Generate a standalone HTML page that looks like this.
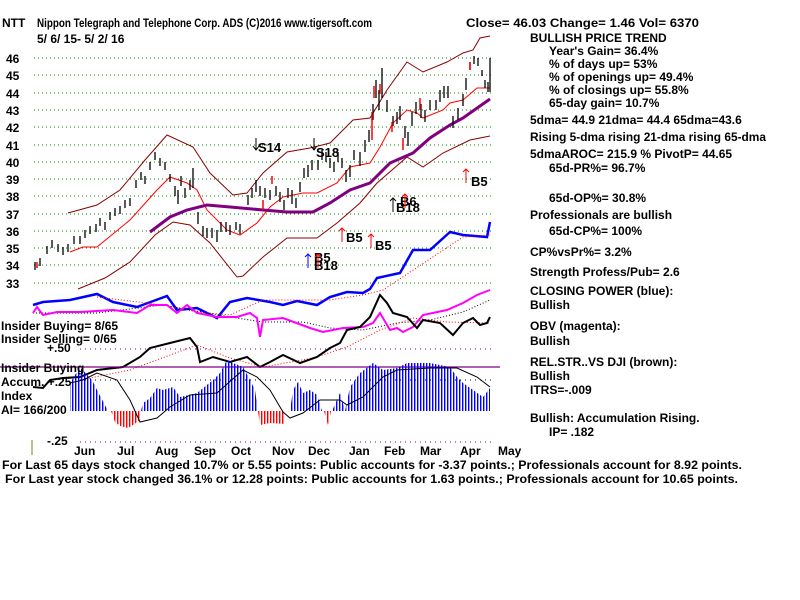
<!DOCTYPE html>
<html><head><meta charset="utf-8"><style>
body{margin:0;background:#fff;}
svg{display:block;font-family:"Liberation Sans",sans-serif;font-weight:bold;font-size:12px;}
</style></head><body>
<svg width="800" height="600" viewBox="0 0 800 600" xmlns="http://www.w3.org/2000/svg">
<defs>
<pattern id="bl" width="3" height="4" patternUnits="userSpaceOnUse"><rect x="0" y="0" width="1.4" height="4" fill="#0000ff"/></pattern>
<pattern id="rd" width="3" height="4" patternUnits="userSpaceOnUse"><rect x="0" y="0" width="1.4" height="4" fill="#ff0000"/></pattern>
</defs>
<rect width="800" height="600" fill="#fff"/>
<g stroke="#008000" stroke-dasharray="1,3" stroke-width="1">
<line x1="34" y1="58" x2="492" y2="58"/><line x1="34" y1="75" x2="492" y2="75"/><line x1="34" y1="93" x2="492" y2="93"/><line x1="34" y1="110" x2="492" y2="110"/><line x1="34" y1="127" x2="492" y2="127"/><line x1="34" y1="145" x2="492" y2="145"/><line x1="34" y1="162" x2="492" y2="162"/><line x1="34" y1="179" x2="492" y2="179"/><line x1="34" y1="196" x2="492" y2="196"/><line x1="34" y1="214" x2="492" y2="214"/><line x1="34" y1="231" x2="492" y2="231"/><line x1="34" y1="248" x2="492" y2="248"/><line x1="34" y1="265" x2="492" y2="265"/><line x1="34" y1="283" x2="492" y2="283"/>
</g>
<g font-size="12">
<text x="6" y="63">46</text><text x="6" y="80">45</text><text x="6" y="98">44</text><text x="6" y="115">43</text><text x="6" y="132">42</text><text x="6" y="150">41</text><text x="6" y="167">40</text><text x="6" y="184">39</text><text x="6" y="201">38</text><text x="6" y="219">37</text><text x="6" y="236">36</text><text x="6" y="253">35</text><text x="6" y="270">34</text><text x="6" y="288">33</text>
</g>
<!-- bands -->
<polyline fill="none" stroke="#8b0000" points="68,213 97,205 120,190 145,160 167,135 193,147 210,173 233,195 247,193 263,173 287,152 310,148 330,143 353,120 370,118 387,90 407,62 423,72 447,62 463,53 473,50 480,38 490,36"/>
<polyline fill="none" stroke="#8b0000" points="78,289 105,278 130,262 155,235 173,222 190,225 210,243 237,277 243,276 263,257 287,238 317,238 337,223 360,203 377,183 407,157 423,167 443,153 470,140 490,136"/>
<polyline fill="none" stroke="#ff0000" points="70,252 83,247 97,247 130,220 157,190 170,177 187,183 197,190 207,210 227,230 240,235 257,223 270,207 283,197 303,193 317,193 337,183 350,167 370,163 380,147 393,123 407,110 417,113 423,118 443,110 450,103 463,100 477,88 490,88"/>
<polyline fill="none" stroke="#800080" stroke-width="3" points="150,232 170,217 187,210 207,205 230,207 263,210 287,212 313,212 330,203 350,190 370,183 390,163 413,153 430,138 450,125 463,118 490,99"/>
<!-- price bars -->
<g stroke="#000" stroke-width="1.3">
<path d="M35,262v8 M40,258v8 M47,246v8 M52,240v8 M58,244v8 M63,247v8 M68,244v8 M74,236v8 M80,236v8 M85,230v8 M90,226v8 M96,224v8 M100,218v8 M105,222v8 M110,212v8 M115,208v8 M120,206v8 M125,200v8 M130,198v8 M136,180v8 M141,172v8 M145,176v8 M150,162v8 M155,152v8 M160,158v8 M165,162v8 M170,174v8 M175,186v10 M178,190v14 M181,176v10 M185,188v10 M190,180v10 M193,168v20 M198,212v12 M203,226v10 M207,228v10 M212,228v10 M217,230v12 M221,222v10 M226,222v10 M230,225v10 M236,222v8 M240,224v10 M248,195v10 M252,188v10 M256,180v12 M260,186v10 M265,188v10 M270,190v10 M276,186v10 M280,192v10 M284,200v10 M288,188v10 M292,190v14 M296,198v10 M300,182v10 M304,168v10 M308,165v12 M312,160v10 M318,160v10 M322,150v10 M326,152v10 M330,158v10 M334,162v10 M338,152v10 M342,158v10 M346,170v12 M350,165v12 M354,150v10 M360,152v14 M365,140v12 M369,130v12 M373,104v16 M376,80v18 M379,90v20 M382,68v30 M387,100v12 M393,116v10 M397,112v12 M400,106v14 M405,126v12 M408,132v14 M412,112v14 M416,102v12 M421,104v14 M425,110v12 M430,100v10 M436,100v10 M440,90v12 M444,86v12 M448,86v12 M453,116v12 M458,108v12 M463,94v12 M466,78v12 M470,62v8 M474,56v8 M478,58v8 M482,70v6 M485,80v8 M488,82v10 M490,58v34"/>
</g>
<g stroke="#ff0000" stroke-width="1.5"><path d="M37,262v6 M372,112v28 M374,86v12 M380,84v10 M392,122v10 M403,138v12 M420,98v12 M470,62v8 M272,176v8 M263,200v10"/></g>
<!-- signals -->
<g font-size="13" fill="#000"><text x="258" y="152">S14</text><text x="316" y="157">S18</text><text x="400" y="206">B6</text><text x="396" y="212">B18</text><text x="314" y="262">B5</text><text x="314" y="270">B18</text></g>
<g stroke="#000" stroke-width="1" fill="none"><path d="M256,138v12 M253,146l3,4l3,-4 M314,138v12 M311,146l3,4l3,-4 M393,212v-14 M390,201l3,-3l3,3"/></g>
<g stroke="#0000ff" fill="none"><path d="M308,268v-14 M305,257l3,-3l3,3"/></g>
<g stroke="#ff0000" fill="none"><path d="M342,242v-14 M339,231l3,-3l3,3 M371,248v-14 M368,237l3,-3l3,3 M466,183v-14 M463,172l3,-3l3,3 M405,208v-14 M402,197l3,-3l3,3 M318,268v-14 M315,257l3,-3l3,3"/></g>
<g font-size="13" fill="#000"><text x="346" y="242">B5</text><text x="375" y="250">B5</text><text x="471" y="186">B5</text></g>
<!-- lower lines -->
<polyline fill="none" stroke="#0000ff" stroke-width="2.5" points="33,305 43,302 70,300 97,294 113,302 137,307 167,296 177,310 197,308 217,318 230,302 247,298 270,302 283,305 297,301 317,305 330,297 347,292 363,293 370,289 377,278 400,273 413,250 430,250 450,232 463,235 487,237 490,222"/>
<polyline fill="none" stroke="#ff0000" stroke-dasharray="1,2" points="97,297 163,305 197,312 230,315 263,300 330,300 363,295 383,290 463,237 490,235"/>
<polyline fill="none" stroke="#000" stroke-dasharray="1,2" points="33,313 97,313 163,305 230,317 263,322 303,322 330,328 363,330 397,323 430,320 463,312 490,300"/>
<polyline fill="none" stroke="#ff00ff" stroke-width="2" points="33,313 37,307 43,315 57,312 80,312 113,310 137,313 150,305 167,305 177,313 187,305 197,313 217,317 237,317 250,313 257,318 260,337 263,320 283,318 310,328 323,332 343,328 363,327 373,323 380,313 390,330 397,328 403,332 413,327 423,315 447,310 463,303 477,295 490,290"/>
<polyline fill="none" stroke="#ff0000" stroke-dasharray="1,2" points="80,380 130,370 197,345 230,358 263,367 313,358 347,347 380,330 413,318 447,322 490,323"/>
<polyline fill="none" stroke="#000" stroke-width="2" points="33,387 43,388 50,380 63,378 80,377 97,370 123,367 140,357 150,348 170,343 190,338 197,347 200,362 213,357 230,362 247,357 260,367 270,362 283,355 300,363 317,357 330,348 340,343 347,330 360,327 370,317 380,295 387,303 393,313 407,317 417,328 423,320 440,323 453,335 463,323 473,318 480,325 487,323 490,317"/>
<!-- AI panel -->
<line x1="0" y1="367" x2="500" y2="367" stroke="#800080" stroke-width="1.3"/>
<line x1="80" y1="349" x2="492" y2="349" stroke="#800080" stroke-dasharray="1,4"/>
<line x1="80" y1="380" x2="492" y2="380" stroke="#000" stroke-dasharray="1,4"/>
<line x1="80" y1="442" x2="492" y2="442" stroke="#800080" stroke-dasharray="1,4"/>
<polygon fill="url(#bl)" points="70,411 70,383 80,367 92,380 97,390 108,411"/>
<polygon fill="url(#rd)" points="111,411 115,422 120,426 128,428 133,425 140,420 141,411"/>
<polygon fill="url(#bl)" points="141,411 143,403 150,398 157,388 163,390 173,387 180,397 197,393 213,380 220,373 227,360 233,363 243,367 250,380 255,390 258,411"/>
<polygon fill="url(#rd)" points="258,411 260,425 270,423 285,424 285,411"/>
<polygon fill="url(#bl)" points="290,411 293,390 298,382 303,393 310,390 317,395 322,411"/>
<polygon fill="url(#rd)" points="324,411 328,425 331,411"/>
<polygon fill="url(#bl)" points="332,411 340,393 345,411 350,387 360,373 373,363 383,370 397,368 407,363 430,363 450,367 457,377 463,383 473,390 483,397 490,388 490,411"/>
<polyline fill="none" stroke="#000" stroke-width="1" points="70,383 83,380 97,373 117,380 130,400 140,422 157,418 170,407 190,395 217,393 243,370 257,377 270,390 283,412 290,418 303,413 320,400 340,400 347,405 363,397 383,377 397,370 430,368 457,368 477,377 490,387"/>
<line x1="32" y1="440" x2="32" y2="455" stroke="#808000"/>
<g font-size="12"><text x="1" y="330">Insider Buying= 8/65</text><text x="1" y="343">Insider Selling= 0/65</text><text x="47" y="352">+.50</text><text x="1" y="372">Insider Buying</text><text x="1" y="386">Accum. +.25</text><text x="1" y="400">Index</text><text x="1" y="414">AI= 166/200</text><text x="47" y="445">-.25</text></g>
<g font-size="12"><text x="74" y="455">Jun</text><text x="117" y="455">Jul</text><text x="155" y="455">Aug</text><text x="194" y="455">Sep</text><text x="231" y="455">Oct</text><text x="272" y="455">Nov</text><text x="308" y="455">Dec</text><text x="349" y="455">Jan</text><text x="384" y="455">Feb</text><text x="420" y="455">Mar</text><text x="460" y="455">Apr</text><text x="498" y="455">May</text></g>
<text x="2" y="27">NTT</text>
<text x="37" y="27" textLength="335" lengthAdjust="spacingAndGlyphs">Nippon Telegraph and Telephone Corp. ADS  (C)2016 www.tigersoft.com</text>
<text x="37" y="43">5/ 6/ 15- 5/ 2/ 16</text>
<text x="466" y="27" textLength="233" lengthAdjust="spacingAndGlyphs">Close=  46.03  Change= 1.46 Vol= 6370</text>
<g font-size="12">
<text x="530" y="42">BULLISH PRICE TREND</text>
<text x="549" y="55">Year's Gain= 36.4%</text>
<text x="549" y="68">% of days up= 53%</text>
<text x="549" y="81">% of openings up= 49.4%</text>
<text x="549" y="94">% of closings up= 55.8%</text>
<text x="549" y="107">65-day gain= 10.7%</text>
<text x="530" y="124">5dma= 44.9 21dma= 44.4 65dma=43.6</text>
<text x="530" y="141" textLength="236" lengthAdjust="spacingAndGlyphs">Rising 5-dma rising 21-dma rising 65-dma</text>
<text x="530" y="158">5dmaAROC= 215.9 %  PivotP= 44.65</text>
<text x="549" y="172">65d-PR%= 96.7%</text>
<text x="549" y="202">65d-OP%= 30.8%</text>
<text x="530" y="219">Professionals are bullish</text>
<text x="549" y="235">65d-CP%= 100%</text>
<text x="530" y="256">CP%vsPr%=  3.2%</text>
<text x="530" y="276">Strength Profess/Pub= 2.6</text>
<text x="530" y="295">CLOSING POWER (blue):</text>
<text x="530" y="309">Bullish</text>
<text x="530" y="330">OBV (magenta):</text>
<text x="530" y="345">Bullish</text>
<text x="530" y="366">REL.STR..VS DJI (brown):</text>
<text x="530" y="380">Bullish</text>
<text x="530" y="394">ITRS=-.009</text>
<text x="530" y="422">Bullish: Accumulation Rising.</text>
<text x="549" y="436">IP=  .182</text>
</g>
<text x="2" y="469" textLength="740" lengthAdjust="spacingAndGlyphs">For Last 65 days stock changed  10.7% or  5.55 points:  Public accounts for -3.37 points.;  Professionals account for  8.92 points.</text>
<text x="5" y="483" textLength="733" lengthAdjust="spacingAndGlyphs">For Last year stock changed  36.1% or  12.28 points:  Public accounts for  1.63 points.;  Professionals account for  10.65 points.</text>
</svg>
</body></html>
